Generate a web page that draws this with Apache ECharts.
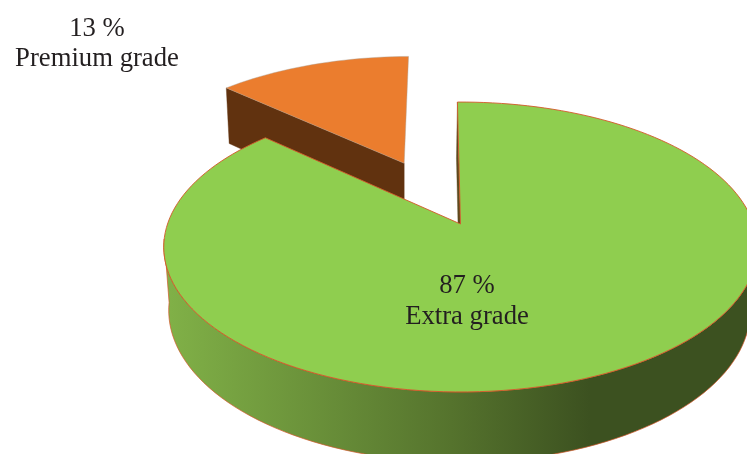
<!DOCTYPE html>
<html><head><meta charset="utf-8">
<style>html,body{margin:0;padding:0;background:#fff}#c{width:747px;height:454px}</style>
<script src="https://cdn.jsdelivr.net/npm/echarts@6/dist/echarts.min.js"></script>
</head><body><div id="c"></div>
<script>
const categories = ['Premium grade', 'Extra grade'];
const values = [13, 87];
const explode = [0.505, 0];

const total = values.reduce((a, b) => a + b, 0);
const startDeg = -0.7 - values[0] / total * 360;   // Extra grade begins at twelve o'clock

// perspective projection of a unit disc (u right, v back, z down)
const P = {ax: 460.5, ay: 224, a: 293, b: 141.3, k: 0.1586, m: 0.02, c: 64, sx: -1};
function proj(u, v, z) {
  const w = 1 + P.k * v + P.m * z;
  return [P.ax + P.a * u / w + P.sx * z, P.ay + (-P.b * v + P.c * z) / w];
}
const rad = d => d * Math.PI / 180;
function arc(a0, a1, ox, oy, z) {
  const pts = [], n = Math.max(2, Math.ceil(Math.abs(a1 - a0) / 2));
  for (let i = 0; i <= n; i++) {
    const t = rad(a0 + (a1 - a0) * i / n);
    pts.push(proj(ox + Math.sin(t), oy + Math.cos(t), z));
  }
  return pts;
}
const poly = (points, style, z2) => ({type: 'polygon', shape: {points}, style, z2});
const styles = {
  'Extra grade': {
    top: '#8fce4f', edge: '#d4582a', edgeW: 0.9, cut: '#5d4a1e',
    rim: {type: 'linear', x: 170, y: 0, x2: 590, y2: 0, global: true,
      colorStops: [{offset: 0, color: '#80b047'}, {offset: 0.67, color: '#55732d'}, {offset: 1, color: '#3c5120'}]},
    text: [467, 286.5]
  },
  'Premium grade': {
    top: '#eb7d2e', edge: 'rgba(170,160,150,0.7)', edgeW: 0.6, cut: '#61320f', rim: '#61320f',
    text: [97, 29]
  }
};
const labelFont = '26.7px "Liberation Serif"';

function renderItem(params, api) {
  const i = params.dataIndex, val = api.value(1);
  let before = 0;
  for (let j = 0; j < i; j++) before += values[j];
  const a0 = startDeg + before / total * 360, a1 = a0 + val / total * 360, mid = rad((a0 + a1) / 2);
  const ox = explode[i] * Math.sin(mid), oy = explode[i] * Math.cos(mid);
  const s = styles[categories[i]];
  const apexT = proj(ox, oy, 0), apexB = proj(ox, oy, 1);
  const children = [];

  // the straight cut face that faces the viewer
  const t = rad(a0);
  children.push(poly([apexT, proj(ox + Math.sin(t), oy + Math.cos(t), 0),
    proj(ox + Math.sin(t), oy + Math.cos(t), 1), apexB], {fill: s.cut, stroke: s.cut, lineWidth: 0.4}));
  // curved rim, front half only
  const from = Math.max(a0, 96), to = Math.min(a1, 264);
  if (to > from) {
    const pts = arc(from, to, ox, oy, 0).concat(arc(to, from, ox, oy, 1));
    children.push(poly(pts, {fill: s.rim, stroke: s.edge, lineWidth: 0.7}));
  }
  // top face
  children.push(poly([apexT].concat(arc(a0, a1, ox, oy, 0)),
    {fill: s.top, stroke: s.edge, lineWidth: s.edgeW}));
  // label
  children.push({type: 'text', z2: 10, style: {
    x: s.text[0], y: s.text[1], text: val + ' %\n' + categories[i],
    font: labelFont, lineHeight: 30.5, fill: '#231f20', align: 'center', verticalAlign: 'middle'
  }, y: 15});
  return {type: 'group', children};
}

const chart = echarts.init(document.getElementById('c'), null, {renderer: 'canvas'});
chart.setOption({
  animation: false,
  backgroundColor: '#fff',
  series: [{
    type: 'custom',
    coordinateSystem: 'none',
    silent: true,
    clip: false,
    renderItem,
    encode: {itemName: 0, value: 1},
    data: categories.map((c, i) => [c, values[i]])
  }]
});
</script></body></html>
